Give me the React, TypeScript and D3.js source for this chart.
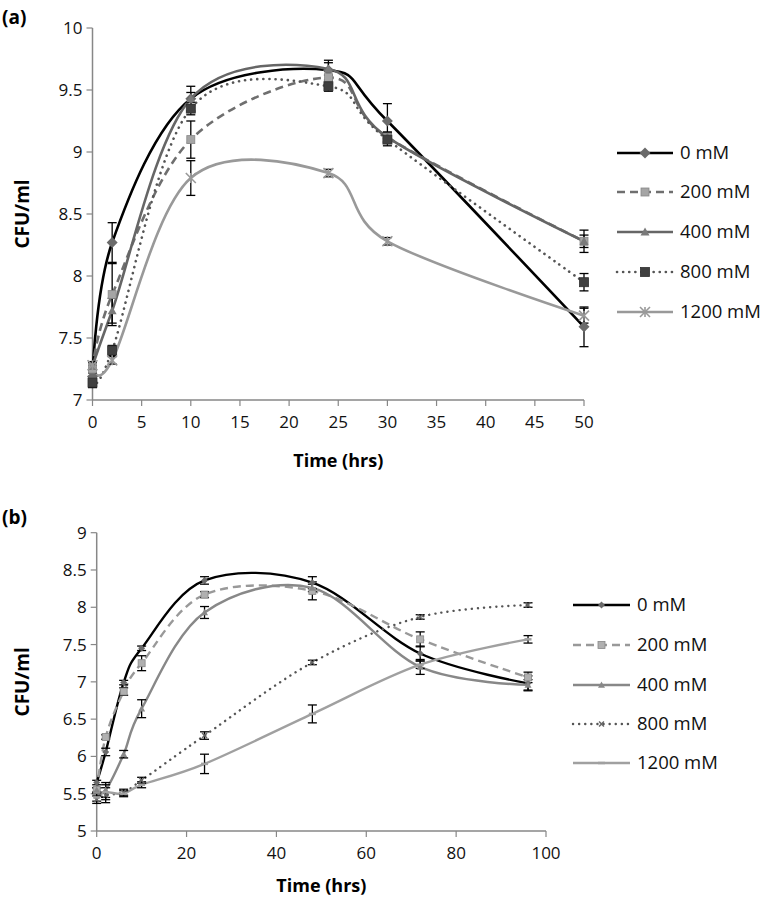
import React from "react";
import * as d3 from "d3";

// ---------- Panel (a) data ----------
const timeA = [0, 2, 10, 24, 30, 50];
const a0 = [7.19, 8.27, 9.43, 9.66, 9.25, 7.59];
const a0Err = [0.03, 0.16, 0.1, 0.08, 0.14, 0.16];
const a200 = [7.25, 7.85, 9.1, 9.6, 9.12, 8.28];
const a200Err = [0.03, 0.25, 0.15, 0.05, 0.04, 0.09];
const a400 = [7.27, 7.72, 9.43, 9.67, 9.12, 8.28];
const a400Err = [0.03, 0.1, 0.05, 0.05, 0.04, 0.05];
const a800 = [7.14, 7.4, 9.35, 9.53, 9.1, 7.95];
const a800Err = [0.04, 0.04, 0.05, 0.04, 0.05, 0.07];
const a1200 = [7.28, 7.32, 8.79, 8.83, 8.28, 7.68];
const a1200Err = [0.03, 0.03, 0.14, 0.03, 0.03, 0.06];
const xTicksA = [0, 5, 10, 15, 20, 25, 30, 35, 40, 45, 50];
const yTicksA = [7, 7.5, 8, 8.5, 9, 9.5, 10];

// ---------- Panel (b) data ----------
const timeB = [0, 2, 6, 10, 24, 48, 72, 96];
const b0 = [5.65, 6.06, 6.99, 7.45, 8.36, 8.33, 7.38, 6.98];
const b0Err = [0.03, 0.05, 0.03, 0.03, 0.05, 0.08, 0.1, 0.1];
const b200 = [5.55, 6.26, 6.87, 7.25, 8.17, 8.22, 7.57, 7.06];
const b200Err = [0.03, 0.03, 0.05, 0.1, 0.04, 0.12, 0.1, 0.07];
const b400 = [5.55, 5.55, 6.03, 6.64, 7.93, 8.26, 7.2, 6.96];
const b400Err = [0.03, 0.1, 0.05, 0.12, 0.08, 0.05, 0.1, 0.07];
const b800 = [5.42, 5.48, 5.52, 5.68, 6.28, 7.26, 7.87, 8.03];
const b800Err = [0.05, 0.1, 0.04, 0.04, 0.05, 0.03, 0.03, 0.03];
const b1200 = [5.45, 5.52, 5.5, 5.62, 5.9, 6.57, 7.23, 7.57];
const b1200Err = [0.05, 0.1, 0.04, 0.04, 0.13, 0.12, 0.05, 0.05];
const xTicksB = [0, 20, 40, 60, 80, 100];
const yTicksB = [5, 5.5, 6, 6.5, 7, 7.5, 8, 8.5, 9];

const seriesNames = ["0 mM", "200 mM", "400 mM", "800 mM", "1200 mM"];

const FONT = "'Open Sans', 'DejaVu Sans', sans-serif";

type Style = {
  color: string;
  width: number;
  dash?: string;
  cap?: "round" | "butt";
  marker: string;
  mColor: string;
  mSize: number;
};

const stylesA: Style[] = [
  { color: "#000000", width: 2.6, marker: "diamond", mColor: "#6a6a6a", mSize: 11 },
  { color: "#6f6f6f", width: 2.6, dash: "8 5", marker: "square", mColor: "#a5a5a5", mSize: 8 },
  { color: "#666666", width: 2.6, marker: "triangle", mColor: "#7a7a7a", mSize: 9 },
  { color: "#555555", width: 2.6, dash: "0.1 6", cap: "round", marker: "square", mColor: "#404040", mSize: 9 },
  { color: "#999999", width: 2.6, marker: "star", mColor: "#999999", mSize: 10 },
];

const stylesB: Style[] = [
  { color: "#000000", width: 2.4, marker: "diamond", mColor: "#6a6a6a", mSize: 7 },
  { color: "#999999", width: 2.4, dash: "8 5", marker: "square", mColor: "#b0b0b0", mSize: 7 },
  { color: "#888888", width: 2.4, marker: "triangle", mColor: "#888888", mSize: 7 },
  { color: "#555555", width: 2.4, dash: "0.1 6", cap: "round", marker: "x", mColor: "#666666", mSize: 7 },
  { color: "#a0a0a0", width: 2.4, marker: "dash", mColor: "#a0a0a0", mSize: 7 },
];

function Marker({ x, y, s }: { x: number; y: number; s: Style }) {
  const r = s.mSize / 2;
  if (s.marker === "diamond") {
    return <path d={`M${x},${y - r}L${x + r},${y}L${x},${y + r}L${x - r},${y}Z`} fill={s.mColor} />;
  }
  if (s.marker === "square") {
    return <rect x={x - r} y={y - r} width={2 * r} height={2 * r} fill={s.mColor} stroke={s.mColor === "#404040" ? "#303030" : "#888"} strokeWidth={0.8} />;
  }
  if (s.marker === "triangle") {
    return <path d={`M${x},${y - r}L${x + r},${y + r * 0.8}L${x - r},${y + r * 0.8}Z`} fill={s.mColor} />;
  }
  if (s.marker === "star") {
    return (
      <g stroke={s.mColor} strokeWidth={1.6}>
        <line x1={x - r} y1={y - r} x2={x + r} y2={y + r} />
        <line x1={x - r} y1={y + r} x2={x + r} y2={y - r} />
        <line x1={x} y1={y - r} x2={x} y2={y + r} />
      </g>
    );
  }
  if (s.marker === "x") {
    return (
      <g stroke={s.mColor} strokeWidth={1.5}>
        <line x1={x - r * 0.7} y1={y - r * 0.7} x2={x + r * 0.7} y2={y + r * 0.7} />
        <line x1={x - r * 0.7} y1={y + r * 0.7} x2={x + r * 0.7} y2={y - r * 0.7} />
      </g>
    );
  }
  return <line x1={x - r} y1={y} x2={x + r} y2={y} stroke={s.mColor} strokeWidth={2.5} />;
}

type PanelProps = {
  label: string;
  labelY: number;
  times: number[];
  values: number[][];
  errors: number[][];
  styles: Style[];
  xDomain: [number, number];
  yDomain: [number, number];
  xRange: [number, number];
  yRange: [number, number];
  xTicks: number[];
  yTicks: number[];
  legendLine: [number, number];
  legendText: number;
  legendRows: number[];
  yLabelX: number;
  xLabelY: number;
  legendFont: number;
};

function Panel(p: PanelProps) {
  const x = d3.scaleLinear().domain(p.xDomain).range(p.xRange);
  const y = d3.scaleLinear().domain(p.yDomain).range(p.yRange);
  const line = d3
    .line<[number, number]>()
    .x((d) => x(d[0]))
    .y((d) => y(d[1]))
    .curve(d3.curveCardinal.tension(0));
  const axisColor = "#878787";
  const x0 = p.xRange[0];
  const yBottom = p.yRange[0];
  return (
    <g>
      <text x={2} y={p.labelY} fontFamily={FONT} fontWeight="bold" fontSize={19}>
        {p.label}
      </text>
      {/* axes */}
      <line x1={x0} y1={p.yRange[1]} x2={x0} y2={yBottom} stroke={axisColor} strokeWidth={1.5} />
      <line x1={x0} y1={yBottom} x2={p.xRange[1]} y2={yBottom} stroke={axisColor} strokeWidth={1.5} />
      {p.yTicks.map((t) => (
        <g key={"yt" + t}>
          <line x1={x0 - 6} y1={y(t)} x2={x0} y2={y(t)} stroke={axisColor} strokeWidth={1.2} />
          <text x={x0 - 10} y={y(t)} dy="0.35em" textAnchor="end" fontFamily={FONT} fontSize={17} fill="#111">
            {t}
          </text>
        </g>
      ))}
      {p.xTicks.map((t) => (
        <g key={"xt" + t}>
          <line x1={x(t)} y1={yBottom} x2={x(t)} y2={yBottom + 6} stroke={axisColor} strokeWidth={1.2} />
          <text x={x(t)} y={yBottom + 22} dy="0.35em" textAnchor="middle" fontFamily={FONT} fontSize={17} fill="#111">
            {t}
          </text>
        </g>
      ))}
      <text
        x={(p.xRange[0] + p.xRange[1]) / 2}
        y={p.xLabelY}
        dy="0.35em"
        textAnchor="middle"
        fontFamily={FONT}
        fontWeight="bold"
        fontSize={18}
      >
        Time (hrs)
      </text>
      <text
        transform={`translate(${p.yLabelX},${(p.yRange[0] + p.yRange[1]) / 2}) rotate(-90)`}
        textAnchor="middle"
        dy="0.35em"
        fontFamily={FONT}
        fontWeight="bold"
        fontSize={19}
      >
        CFU/ml
      </text>
      {/* lines */}
      {p.values.map((vals, i) => {
        const s = p.styles[i];
        const pts = p.times.map((t, j) => [t, vals[j]] as [number, number]);
        return (
          <path
            key={"l" + i}
            d={line(pts) || ""}
            fill="none"
            stroke={s.color}
            strokeWidth={s.width}
            strokeDasharray={s.dash}
            strokeLinecap={s.cap || "butt"}
          />
        );
      })}
      {/* error bars */}
      {p.values.map((vals, i) =>
        p.times.map((t, j) => {
          const e = p.errors[i][j];
          const cx = x(t);
          return (
            <g key={"e" + i + "-" + j} stroke="#000" strokeWidth={1.3}>
              <line x1={cx} y1={y(vals[j] + e)} x2={cx} y2={y(vals[j] - e)} />
              <line x1={cx - 4.5} y1={y(vals[j] + e)} x2={cx + 4.5} y2={y(vals[j] + e)} />
              <line x1={cx - 4.5} y1={y(vals[j] - e)} x2={cx + 4.5} y2={y(vals[j] - e)} />
            </g>
          );
        })
      )}
      {/* markers */}
      {p.values.map((vals, i) =>
        p.times.map((t, j) => <Marker key={"m" + i + "-" + j} x={x(t)} y={y(vals[j])} s={p.styles[i]} />)
      )}
      {/* legend */}
      {seriesNames.map((n, i) => {
        const s = p.styles[i];
        const ly = p.legendRows[i];
        const mid = (p.legendLine[0] + p.legendLine[1]) / 2;
        return (
          <g key={"lg" + i}>
            <line
              x1={p.legendLine[0]}
              y1={ly}
              x2={p.legendLine[1]}
              y2={ly}
              stroke={s.color}
              strokeWidth={s.width}
              strokeDasharray={s.dash}
              strokeLinecap={s.cap || "butt"}
            />
            <Marker x={mid} y={ly} s={s} />
            <text x={p.legendText} y={ly} dy="0.35em" fontFamily={FONT} fontSize={p.legendFont} fill="#111">
              {n}
            </text>
          </g>
        );
      })}
    </g>
  );
}

export default function App() {
  return (
    <div style={{ position: "absolute", left: 0, top: 0, background: "#fff" }}>
      <svg width={765} height={903} style={{ display: "block" }}>
        <rect width={765} height={903} fill="#fff" />
        <Panel
          label="(a)"
          labelY={24}
          times={timeA}
          values={[a0, a200, a400, a800, a1200]}
          errors={[a0Err, a200Err, a400Err, a800Err, a1200Err]}
          styles={stylesA}
          xDomain={[0, 50]}
          yDomain={[7, 10]}
          xRange={[92.5, 584]}
          yRange={[400, 28]}
          xTicks={xTicksA}
          yTicks={yTicksA}
          legendLine={[617, 673]}
          legendText={680}
          legendRows={[153, 192, 232, 272, 312]}
          yLabelX={22}
          xLabelY={461}
          legendFont={18.5}
        />
        <Panel
          label="(b)"
          labelY={524}
          times={timeB}
          values={[b0, b200, b400, b800, b1200]}
          errors={[b0Err, b200Err, b400Err, b800Err, b1200Err]}
          styles={stylesB}
          xDomain={[0, 100]}
          yDomain={[5, 9]}
          xRange={[96.7, 546]}
          yRange={[831, 532.7]}
          xTicks={xTicksB}
          yTicks={yTicksB}
          legendLine={[573, 630]}
          legendText={637}
          legendRows={[605, 645, 685, 724, 763]}
          yLabelX={22}
          xLabelY={886}
          legendFont={18.5}
        />
      </svg>
    </div>
  );
}
